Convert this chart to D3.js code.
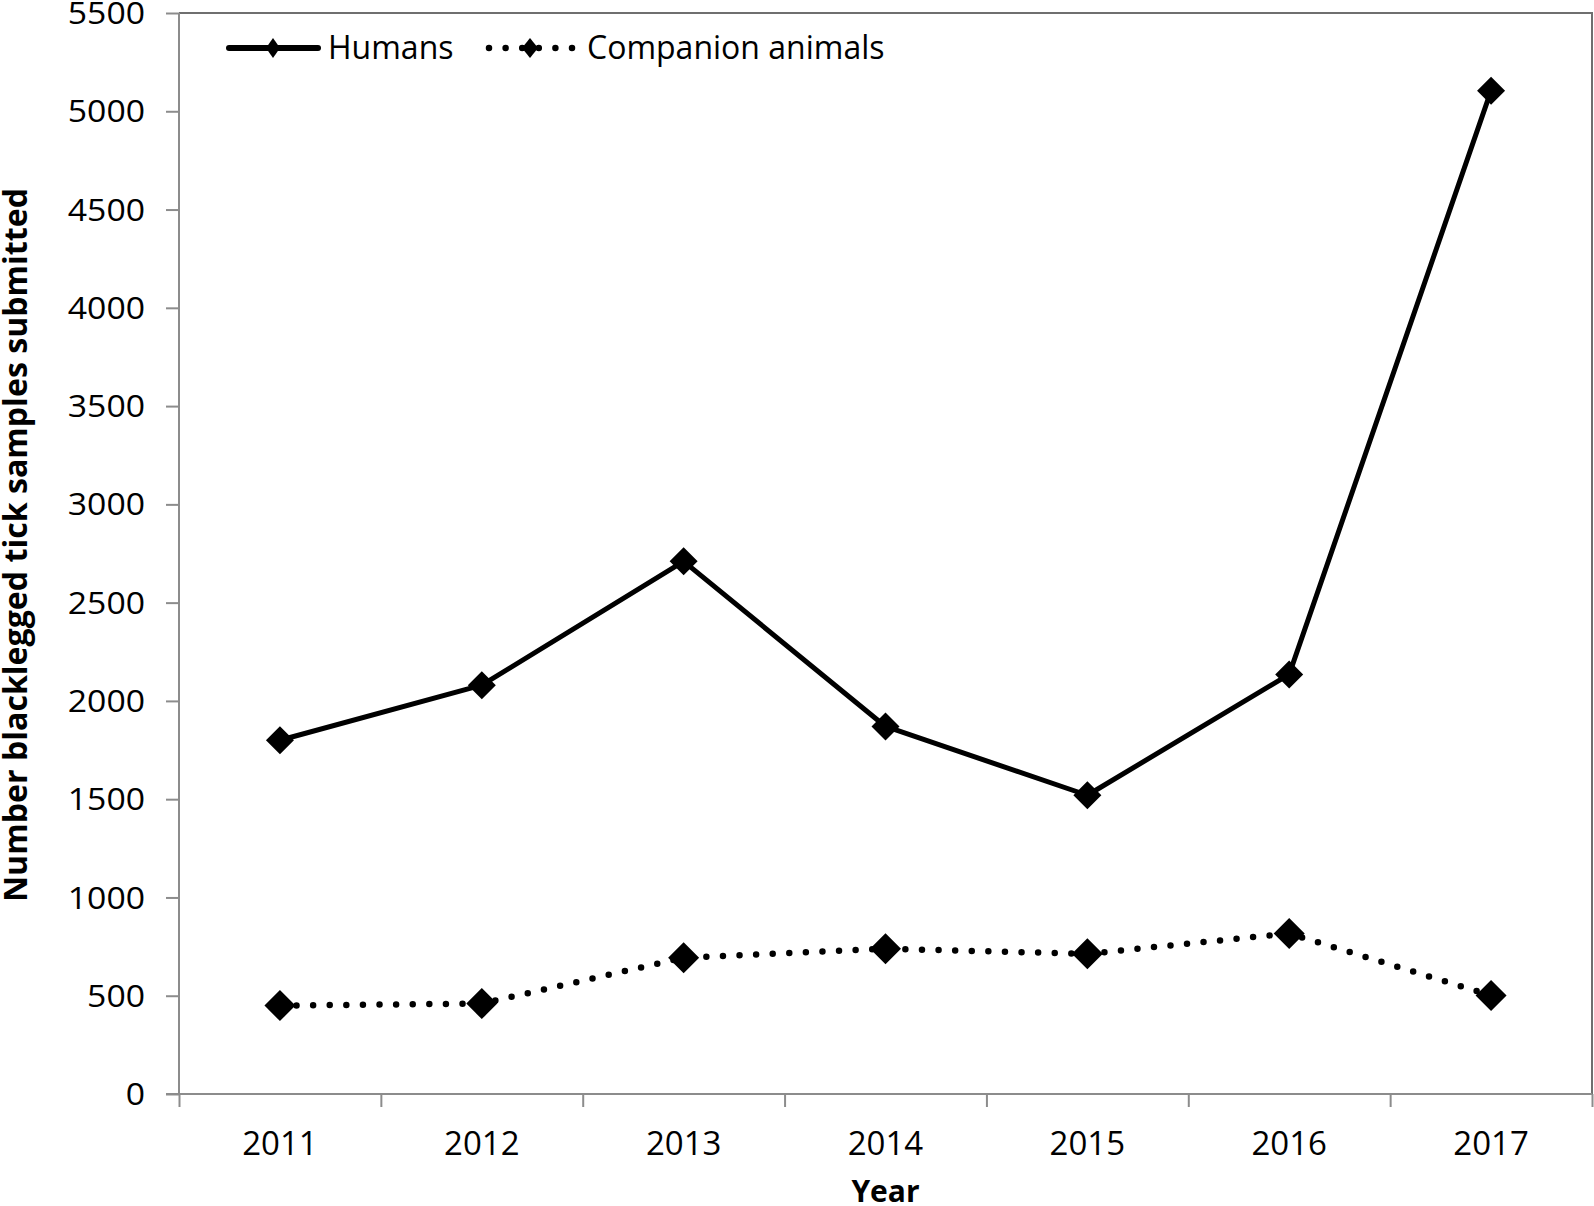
<!DOCTYPE html>
<html>
<head>
<meta charset="utf-8">
<script src="https://cdn.jsdelivr.net/npm/d3@7"></script>
<style>
  body { margin: 0; background: #fff; }
  text { font-family: "Open Sans", sans-serif; fill: #000; }
</style>
</head>
<body>
<div id="chart"></div>
<script>
////////////////////////////////////////////////////////////////////////
// Data

let years = [2011, 2012, 2013, 2014, 2015, 2016, 2017];
let humans = [1800, 2080, 2710, 1870, 1520, 2135, 5105];
let companion = [450, 460, 693, 739, 713, 817, 501];
let yTicks = [0, 500, 1000, 1500, 2000, 2500, 3000, 3500, 4000, 4500, 5000, 5500];

let seriesNames = ["Humans", "Companion animals"];

////////////////////////////////////////////////////////////////////////
// svg + layout

let width = 1594;
let height = 1206;
let plotLeft = 179, plotRight = 1592, plotTop = 13, plotBottom = 1094;

let svg = d3.select("#chart")
  .append("svg")
  .attr("width", width).attr("height", height);

let xScale = d3.scaleLinear()
  .domain([years[0] - 0.5, years[years.length - 1] + 0.5])
  .range([plotLeft, plotRight]);

let yScale = d3.scaleLinear()
  .domain([0, 5500])
  .range([plotBottom, plotTop]);

// plot area border (top and right)
svg.append("path")
  .attr("d", "M" + plotLeft + "," + plotTop + "H" + plotRight + "V" + plotBottom)
  .style("fill", "none")
  .style("stroke", "#6f6f6f")
  .style("stroke-width", 2);

// y axis
let yAxis = d3.axisLeft(yScale)
  .tickValues(yTicks)
  .tickFormat(d3.format("d"))
  .tickSize(13)
  .tickPadding(21);

let gy = svg.append("g")
  .attr("class", "axis")
  .attr("transform", "translate(" + plotLeft + ",0)")
  .call(yAxis);

// x axis: ticks sit between the years
let xAxis = d3.axisBottom(xScale)
  .tickValues(years.map(function(y) { return y - 0.5; }).concat([years[years.length - 1] + 0.5]))
  .tickFormat("")
  .tickSize(13);

let gx = svg.append("g")
  .attr("class", "axis")
  .attr("transform", "translate(0," + plotBottom + ")")
  .call(xAxis);

svg.selectAll(".axis path.domain, .axis line")
  .style("stroke", "#8c8c8c")
  .style("stroke-width", 2);
gy.select("path.domain").attr("d", "M0," + plotTop + "V" + plotBottom);
gx.select("path.domain").attr("d", "M" + (plotLeft - 13) + ",0H" + plotRight);

// tick labels: slightly shorter glyphs stretched to the reference width
gy.selectAll("text")
  .attr("dy", "0.34em")
  .attr("textLength", function(d) { return String(d).length * 19.3; })
  .attr("lengthAdjust", "spacingAndGlyphs")
  .style("font-family", "'Open Sans', sans-serif")
  .style("font-size", "31px")
  .style("fill", "#000");

// year labels
svg.append("g")
  .selectAll(".yearlabel")
  .data(years)
  .enter()
  .append("text")
  .attr("class", "yearlabel")
  .attr("x", function(d) { return xScale(d); })
  .attr("y", 1143)
  .attr("dy", "0.35em")
  .style("text-anchor", "middle")
  .style("font-size", "33px")
  .text(function(d) { return d; });

// axis titles
svg.append("text")
  .attr("x", (plotLeft + plotRight) / 2)
  .attr("y", 1191)
  .attr("dy", "0.35em")
  .style("text-anchor", "middle")
  .style("font-size", "30px")
  .style("font-weight", "bold")
  .text("Year");

svg.append("text")
  .attr("transform", "translate(27," + 545 + ") rotate(-90)")
  .attr("textLength", 714)
  .attr("lengthAdjust", "spacingAndGlyphs")
  .style("text-anchor", "middle")
  .style("font-size", "32px")
  .style("font-weight", "bold")
  .text("Number blacklegged tick samples submitted");

////////////////////////////////////////////////////////////////////////
// lines + markers

let line = d3.line()
  .x(function(d, i) { return xScale(years[i]); })
  .y(function(d) { return yScale(d); });

function diamond(w, h) {
  return "M0," + (-h) + "L" + w + ",0L0," + h + "L" + (-w) + ",0Z";
}

svg.append("path")
  .datum(humans)
  .attr("d", line)
  .style("fill", "none")
  .style("stroke", "#000")
  .style("stroke-width", 5)
  .style("stroke-linejoin", "round");

svg.append("path")
  .datum(companion)
  .attr("d", line)
  .style("fill", "none")
  .style("stroke", "#000")
  .style("stroke-width", 6.5)
  .style("stroke-linecap", "round")
  .style("stroke-dasharray", "0,16.6");

[[humans, 14], [companion, 15.5]].forEach(function(s) {
  svg.append("g")
    .selectAll(".marker")
    .data(s[0])
    .enter()
    .append("path")
    .attr("class", "marker")
    .attr("d", diamond(s[1], s[1]))
    .attr("transform", function(d, i) {
      return "translate(" + xScale(years[i]) + "," + yScale(d) + ")";
    })
    .style("fill", "#000");
});

////////////////////////////////////////////////////////////////////////
// legend

let legend = svg.append("g").attr("class", "legend");

legend.append("line")
  .attr("x1", 229).attr("x2", 318).attr("y1", 48).attr("y2", 48)
  .style("stroke", "#000").style("stroke-width", 6)
  .style("stroke-linecap", "round");
legend.append("path")
  .attr("d", diamond(7, 10))
  .attr("transform", "translate(273,48)")
  .style("fill", "#000");
legend.append("text")
  .attr("x", 328).attr("y", 48).attr("dy", "0.35em")
  .style("font-size", "32px")
  .text(seriesNames[0]);

legend.append("line")
  .attr("x1", 489).attr("x2", 574).attr("y1", 48).attr("y2", 48)
  .style("stroke", "#000").style("stroke-width", 6.5)
  .style("stroke-linecap", "round")
  .style("stroke-dasharray", "0,16.6");
legend.append("path")
  .attr("d", diamond(8, 10))
  .attr("transform", "translate(530,48)")
  .style("fill", "#000");
legend.append("text")
  .attr("x", 587).attr("y", 48).attr("dy", "0.35em")
  .style("font-size", "32px")
  .text(seriesNames[1]);
</script>
</body>
</html>
